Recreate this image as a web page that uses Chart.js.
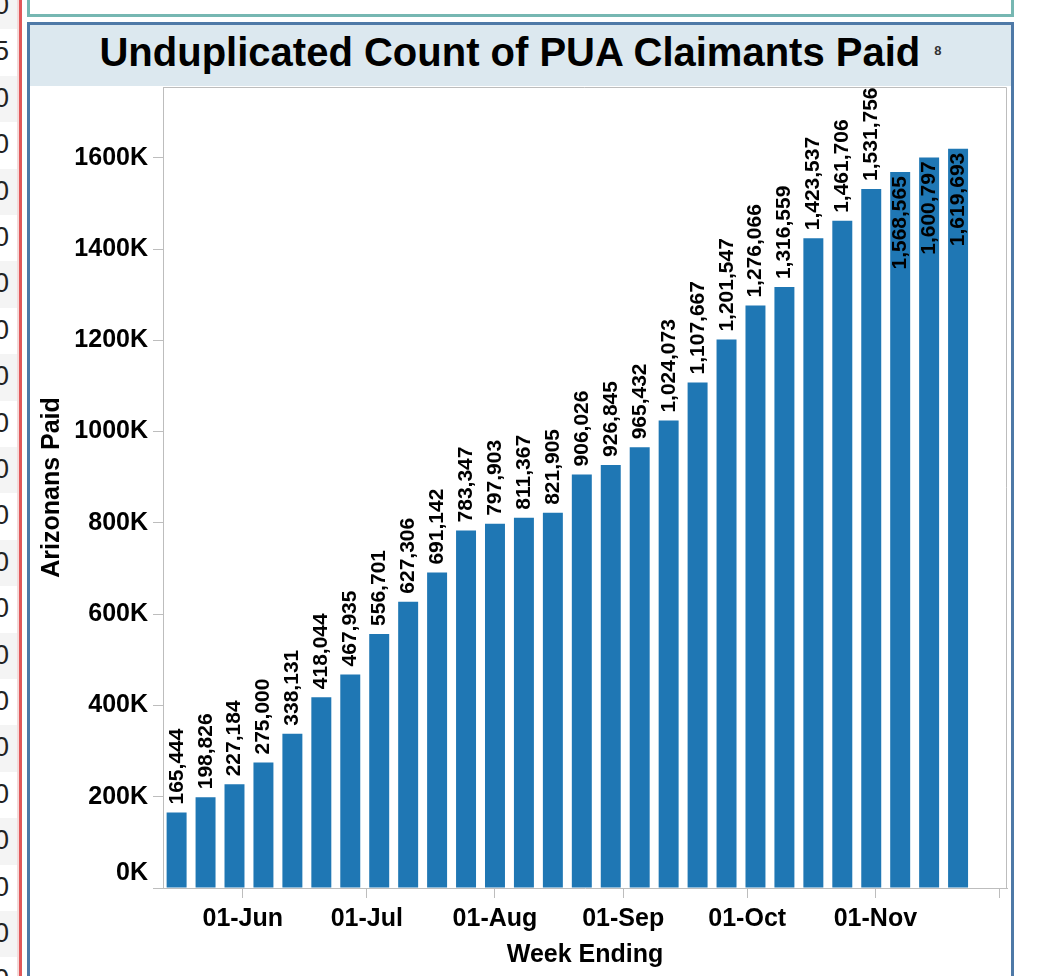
<!DOCTYPE html>
<html lang="en">
<head>
  <meta charset="UTF-8" />
  <title>Unduplicated Count of PUA Claimants Paid</title>
  <script src="https://cdn.jsdelivr.net/npm/chart.js"></script>
  <style>
    body { margin: 0; width: 1037px; height: 976px; overflow: hidden; background: #fff; font-family: "Liberation Sans", Arial, sans-serif; position: relative; }
    .abs { position: absolute; }
    #strip { left: 0; top: 0; width: 17px; height: 976px; overflow: hidden; }
    #strip .row { position: absolute; left: 0; width: 17px; height: 46.4px; }
    #strip .row span { position: absolute; right: 8px; top: 7px; font-size: 27px; color: #222; }
    #teal { left: 27px; top: -12px; width: 987px; height: 29px; border: 3px solid #76b7b2; box-sizing: border-box; overflow: hidden; background: #fff; }
    #frame { left: 27px; top: 22px; width: 987px; height: 980px; border: 3px solid #4e79a7; border-bottom: none; box-sizing: border-box; }
    #band { left: 30px; top: 25px; width: 981px; height: 61px; background: #dce8ef; }
    #title { left: 30px; top: 29px; width: 981px; text-align: center; font-size: 40px; font-weight: bold; line-height: 46px; color: #000; white-space: nowrap; }
    #title sup { font-size: 13px; vertical-align: baseline; position: relative; top: -11px; margin-left: 14px; color: #333; }
    #wrap { left: 30px; top: 85px; width: 980px; height: 891px; }
  </style>
</head>
<body>
  <div id="strip" class="abs"></div>
  <div class="abs" style="left:17px;top:0;width:2px;height:976px;background:#f3dada"></div>
  <div class="abs" style="left:19px;top:0;width:3px;height:976px;background:#e15759"></div>
  <div id="teal" class="abs">
    <div class="abs" style="left:0;width:981px;top:-19px;text-align:center;font-size:25px;font-weight:bold;padding-left:120px;box-sizing:border-box">Week Ending</div>
  </div>
  <div id="frame" class="abs"></div>
  <div id="band" class="abs"></div>
  <div id="title" class="abs">Unduplicated Count of PUA Claimants Paid<sup>8</sup></div>
  <div id="wrap" class="abs"><canvas id="chart" width="980" height="891"></canvas></div>

  <script>
    // weekly totals, week ending Saturday
    const weekEnding = [
      '2020-05-16', '2020-05-23', '2020-05-30', '2020-06-06', '2020-06-13', '2020-06-20', '2020-06-27',
      '2020-07-04', '2020-07-11', '2020-07-18', '2020-07-25', '2020-08-01', '2020-08-08', '2020-08-15',
      '2020-08-22', '2020-08-29', '2020-09-05', '2020-09-12', '2020-09-19', '2020-09-26', '2020-10-03',
      '2020-10-10', '2020-10-17', '2020-10-24', '2020-10-31', '2020-11-07', '2020-11-14', '2020-11-21'
    ];
    const paid = [
      165444, 198826, 227184, 275000, 338131, 418044, 467935,
      556701, 627306, 691142, 783347, 797903, 811367, 821905,
      906026, 926845, 965432, 1024073, 1107667, 1201547, 1276066,
      1316559, 1423537, 1461706, 1531756, 1568565, 1600797, 1619693
    ];
    const xTickDates = ['2020-06-01', '2020-07-01', '2020-08-01', '2020-09-01', '2020-10-01', '2020-11-01', '2020-12-01'];
    const xTickLabels = ['01-Jun', '01-Jul', '01-Aug', '01-Sep', '01-Oct', '01-Nov', ''];
    const xRange = ['2020-05-12T17:00:00Z', '2020-12-02T20:00:00Z'];
    const yTicks = [0, 200000, 400000, 600000, 800000, 1000000, 1200000, 1400000, 1600000];
    const yTickLabels = ['0K', '200K', '400K', '600K', '800K', '1000K', '1200K', '1400K', '1600K'];
    const yMax = 1755000;

    // left edge: clipped column of a neighbouring sheet
    const stripDigits = ['0', '5', '0', '0', '0', '0', '0', '0', '0', '0', '0', '0', '0', '0', '0', '0', '0', '0', '0', '0', '0', '0'];
    const strip = document.getElementById('strip');
    stripDigits.forEach((d, i) => {
      const row = document.createElement('div');
      row.className = 'row';
      row.style.top = (-17 + i * 46.4) + 'px';
      row.style.background = i % 2 ? '#fff' : '#f4f4f4';
      row.innerHTML = `<span>${d}</span>`;
      strip.appendChild(row);
    });

    const day = s => Date.parse(s) / 864e5;
    const FONT = '"Liberation Sans", Arial, sans-serif';
    const AXIS = '#bdbdbd';

    const barLabels = {
      id: 'barLabels',
      afterDatasetsDraw(chart) {
        const { ctx, chartArea } = chart;
        const meta = chart.getDatasetMeta(0);
        ctx.save();
        ctx.font = `bold 21px ${FONT}`;
        ctx.fillStyle = '#000';
        ctx.textBaseline = 'alphabetic';
        meta.data.forEach((bar, i) => {
          const txt = paid[i].toLocaleString('en-US');
          const w = ctx.measureText(txt).width;
          ctx.save();
          ctx.translate(bar.x + 6, 0);
          ctx.rotate(-Math.PI / 2);
          if (bar.y - 8 - w < chartArea.top - 4) {
            ctx.textAlign = 'right';
            ctx.fillText(txt, -(bar.y + 4), 0);
          } else {
            ctx.textAlign = 'left';
            ctx.fillText(txt, -(bar.y - 8), 0);
          }
          ctx.restore();
        });
        ctx.restore();
      }
    };

    const plotFrame = {
      id: 'plotFrame',
      beforeDraw(chart) {
        // Tableau keeps the bottom axis label inside the pane
        const items = chart.scales.y.getLabelItems();
        items.forEach(it => {
          if (it.label === '0K') it.options.translation[1] -= 15;
        });
      },
      afterDraw(chart) {
        const { ctx, chartArea: a } = chart;
        ctx.save();
        ctx.strokeStyle = AXIS;
        ctx.lineWidth = 1;
        ctx.beginPath();
        ctx.moveTo(a.left, a.top + 0.5);
        ctx.lineTo(a.right - 0.5, a.top + 0.5);
        ctx.lineTo(a.right - 0.5, a.bottom);
        ctx.stroke();
        ctx.restore();
      }
    };

    new Chart(document.getElementById('chart'), {
      type: 'bar',
      data: {
        datasets: [{
          data: weekEnding.map((d, i) => ({ x: day(d), y: paid[i] })),
          backgroundColor: '#1f77b4',
          categoryPercentage: 1,
          barPercentage: 0.69
        }]
      },
      options: {
        responsive: false,
        devicePixelRatio: 1,
        animation: false,
        layout: { padding: { top: 2, right: 3, left: 0, bottom: 0 } },
        plugins: { legend: { display: false }, tooltip: { enabled: false } },
        scales: {
          x: {
            type: 'linear',
            offset: false,
            min: day(xRange[0]),
            max: day(xRange[1]),
            afterBuildTicks: s => { s.ticks = xTickDates.map(d => ({ value: day(d) })); },
            afterFit: s => { s.height = 88; s.paddingLeft = 0; s.paddingRight = 0; },
            grid: { drawOnChartArea: false, drawTicks: true, tickLength: 10, color: AXIS, offset: false },
            border: { color: AXIS },
            ticks: {
              autoSkip: false, maxRotation: 0, padding: 6, color: '#000',
              font: { family: FONT, size: 25, weight: 'bold' },
              callback: (v, i) => xTickLabels[i]
            },
            title: {
              display: true, text: 'Week Ending', color: '#000',
              font: { family: FONT, size: 25, weight: 'bold' },
              padding: { top: 0, bottom: 6 }
            }
          },
          y: {
            min: 0,
            max: yMax,
            afterBuildTicks: s => { s.ticks = yTicks.map(v => ({ value: v })); },
            afterFit: s => { s.width = 133; s.paddingTop = 0; s.paddingBottom = 0; },
            grid: { drawOnChartArea: false, drawTicks: true, tickLength: 10, color: AXIS },
            border: { color: AXIS },
            ticks: {
              padding: 5, color: '#000',
              font: { family: FONT, size: 25, weight: 'bold' },
              callback: (v, i) => yTickLabels[i]
            },
            title: {
              display: true, text: 'Arizonans Paid', color: '#000',
              font: { family: FONT, size: 25, weight: 'bold' },
              padding: { top: 7, bottom: 0 }
            }
          }
        }
      },
      plugins: [barLabels, plotFrame]
    });
  </script>
</body>
</html>
